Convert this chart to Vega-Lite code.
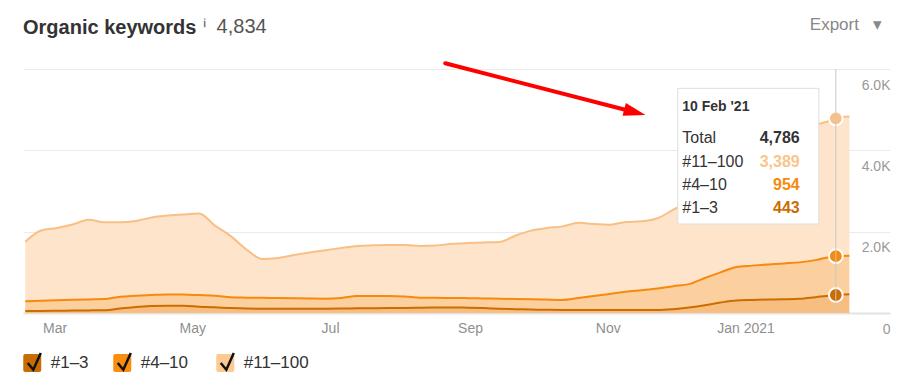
{
  "$schema": "https://vega.github.io/schema/vega-lite/v6.json",
  "width": 867,
  "height": 244,
  "autosize": {"type": "none"},
  "padding": {"left": 23, "top": 69, "right": 22, "bottom": 74},
  "background": "white",
  "config": {
    "view": {"stroke": null},
    "font": "Liberation Sans",
    "legend": {
      "orient": "none",
      "legendY": 283.5,
      "direction": "horizontal",
      "title": null,
      "padding": 0,
      "symbolSize": 324,
      "symbolStrokeWidth": 2.5,
      "labelFont": "Liberation Sans",
      "labelFontSize": 17,
      "labelColor": "#333333",
      "labelOffset": 8
    }
  },
  "title": {
    "text": "Organic keywords",
    "anchor": "start",
    "frame": "group",
    "fontSize": 20,
    "fontWeight": "bold",
    "color": "#333333",
    "font": "Liberation Sans",
    "offset": -23
  },
  "resolve": {"scale": {"shape": "independent"}, "legend": {"shape": "independent"}},
  "layer": [
    {
      "data": {
        "values": [
          {"date": "2020-02-17", "#1–3": 49, "#4–10": 241, "#11–100": 1463},
          {"date": "2020-02-24", "#1–3": 52, "#4–10": 248, "#11–100": 1730},
          {"date": "2020-03-02", "#1–3": 56, "#4–10": 259, "#11–100": 1775},
          {"date": "2020-03-09", "#1–3": 60, "#4–10": 265, "#11–100": 1850},
          {"date": "2020-03-16", "#1–3": 64, "#4–10": 271, "#11–100": 1955},
          {"date": "2020-03-23", "#1–3": 70, "#4–10": 272, "#11–100": 1888},
          {"date": "2020-03-30", "#1–3": 110, "#4–10": 290, "#11–100": 1830},
          {"date": "2020-04-06", "#1–3": 150, "#4–10": 275, "#11–100": 1840},
          {"date": "2020-04-13", "#1–3": 170, "#4–10": 275, "#11–100": 1905},
          {"date": "2020-04-20", "#1–3": 178, "#4–10": 280, "#11–100": 1937},
          {"date": "2020-04-27", "#1–3": 178, "#4–10": 277, "#11–100": 1970},
          {"date": "2020-05-04", "#1–3": 155, "#4–10": 285, "#11–100": 2005},
          {"date": "2020-05-11", "#1–3": 140, "#4–10": 285, "#11–100": 1725},
          {"date": "2020-05-18", "#1–3": 120, "#4–10": 270, "#11–100": 1500},
          {"date": "2020-05-25", "#1–3": 108, "#4–10": 270, "#11–100": 1182},
          {"date": "2020-06-01", "#1–3": 105, "#4–10": 267, "#11–100": 958},
          {"date": "2020-06-08", "#1–3": 105, "#4–10": 264, "#11–100": 986},
          {"date": "2020-06-15", "#1–3": 105, "#4–10": 257, "#11–100": 1063},
          {"date": "2020-06-22", "#1–3": 106, "#4–10": 250, "#11–100": 1134},
          {"date": "2020-06-29", "#1–3": 107, "#4–10": 245, "#11–100": 1193},
          {"date": "2020-07-06", "#1–3": 110, "#4–10": 260, "#11–100": 1230},
          {"date": "2020-07-13", "#1–3": 115, "#4–10": 300, "#11–100": 1235},
          {"date": "2020-07-20", "#1–3": 118, "#4–10": 300, "#11–100": 1247},
          {"date": "2020-07-27", "#1–3": 120, "#4–10": 298, "#11–100": 1254},
          {"date": "2020-08-03", "#1–3": 125, "#4–10": 280, "#11–100": 1267},
          {"date": "2020-08-10", "#1–3": 128, "#4–10": 248, "#11–100": 1274},
          {"date": "2020-08-17", "#1–3": 135, "#4–10": 237, "#11–100": 1288},
          {"date": "2020-08-24", "#1–3": 138, "#4–10": 232, "#11–100": 1330},
          {"date": "2020-08-31", "#1–3": 130, "#4–10": 235, "#11–100": 1355},
          {"date": "2020-09-07", "#1–3": 120, "#4–10": 238, "#11–100": 1377},
          {"date": "2020-09-14", "#1–3": 105, "#4–10": 247, "#11–100": 1393},
          {"date": "2020-09-21", "#1–3": 95, "#4–10": 250, "#11–100": 1555},
          {"date": "2020-09-28", "#1–3": 85, "#4–10": 255, "#11–100": 1685},
          {"date": "2020-10-05", "#1–3": 78, "#4–10": 252, "#11–100": 1760},
          {"date": "2020-10-12", "#1–3": 74, "#4–10": 248, "#11–100": 1808},
          {"date": "2020-10-19", "#1–3": 74, "#4–10": 296, "#11–100": 1850},
          {"date": "2020-10-26", "#1–3": 74, "#4–10": 346, "#11–100": 1768},
          {"date": "2020-11-02", "#1–3": 74, "#4–10": 396, "#11–100": 1702},
          {"date": "2020-11-09", "#1–3": 74, "#4–10": 450, "#11–100": 1714},
          {"date": "2020-11-16", "#1–3": 74, "#4–10": 486, "#11–100": 1695},
          {"date": "2020-11-23", "#1–3": 74, "#4–10": 526, "#11–100": 1730},
          {"date": "2020-11-30", "#1–3": 95, "#4–10": 565, "#11–100": 1880},
          {"date": "2020-12-07", "#1–3": 135, "#4–10": 575, "#11–100": 2040},
          {"date": "2020-12-14", "#1–3": 190, "#4–10": 670, "#11–100": 2090},
          {"date": "2020-12-21", "#1–3": 260, "#4–10": 740, "#11–100": 2200},
          {"date": "2020-12-28", "#1–3": 310, "#4–10": 820, "#11–100": 2320},
          {"date": "2021-01-04", "#1–3": 322, "#4–10": 843, "#11–100": 2535},
          {"date": "2021-01-11", "#1–3": 332, "#4–10": 863, "#11–100": 2755},
          {"date": "2021-01-18", "#1–3": 338, "#4–10": 882, "#11–100": 2980},
          {"date": "2021-01-25", "#1–3": 350, "#4–10": 895, "#11–100": 3205},
          {"date": "2021-02-01", "#1–3": 390, "#4–10": 910, "#11–100": 3320},
          {"date": "2021-02-08", "#1–3": 430, "#4–10": 955, "#11–100": 3355},
          {"date": "2021-02-10", "#1–3": 443, "#4–10": 954, "#11–100": 3389},
          {"date": "2021-02-16", "#1–3": 460, "#4–10": 949, "#11–100": 3425}
        ],
        "format": {"parse": {"date": "date"}}
      },
      "transform": [
        {"fold": ["#1–3", "#4–10", "#11–100"], "as": ["series", "value"]},
        {"calculate": "indexof(['#1–3','#4–10','#11–100'], datum.series)", "as": "rank"},
        {"stack": "value", "groupby": ["date"], "sort": [{"field": "rank", "order": "ascending"}], "as": ["v0", "v1"]}
      ],
      "layer": [
        {
          "mark": {"type": "area", "interpolate": "monotone"},
          "encoding": {
            "x": {
              "field": "date",
              "type": "temporal",
              "title": "ⁱ\u00a0\u00a04,834",
              "scale": {
                "type": "utc",
                "domain": [
                  {"year": 2020, "month": 2, "date": 16, "utc": true},
                  {"year": 2021, "month": 3, "date": 6, "utc": true}
                ]
              },
              "axis": {
                "values": [
                  {"year": 2020, "month": 3, "date": 1, "utc": true},
                  {"year": 2020, "month": 5, "date": 1, "utc": true},
                  {"year": 2020, "month": 7, "date": 1, "utc": true},
                  {"year": 2020, "month": 9, "date": 1, "utc": true},
                  {"year": 2020, "month": 11, "date": 1, "utc": true},
                  {"year": 2021, "month": 1, "date": 1, "utc": true}
                ],
                "labelExpr": "utcmonth(datum.value) == 0 ? utcFormat(datum.value, '%b %Y') : utcFormat(datum.value, '%b')",
                "grid": false,
                "ticks": false,
                "tickSize": 0,
                "labelPadding": 8,
                "labelFont": "Liberation Sans",
                "labelFontSize": 14,
                "labelColor": "#8f8f8f",
                "labelFlush": false,
                "labelOverlap": false,
                "domainColor": "#e3e3e3",
                "domainWidth": 2,
                "titleX": 179,
                "titleY": -280.7,
                "titleAlign": "left",
                "titleBaseline": "alphabetic",
                "titleFont": "Liberation Sans",
                "titleFontSize": 20,
                "titleFontWeight": "normal",
                "titleColor": "#555555"
              }
            },
            "y": {
              "field": "v0",
              "type": "quantitative",
              "title": "Export\u00a0\u00a0\u00a0▾",
              "scale": {"domain": [0, 6000], "nice": false},
              "axis": {
                "orient": "right",
                "values": [0, 2000, 4000, 6000],
                "labelExpr": "datum.value == 0 ? '0' : format(datum.value / 1000, '.1f') + 'K'",
                "grid": true,
                "gridColor": "#ebebeb",
                "domain": false,
                "ticks": false,
                "tickSize": 0,
                "labelAlign": "right",
                "labelPadding": 0,
                "labelOffset": 16,
                "labelBaseline": "middle",
                "labelFont": "Liberation Sans",
                "labelFontSize": 14,
                "labelColor": "#999999",
                "labelFlush": false,
                "labelOverlap": false,
                "titleAngle": 0,
                "titleX": -80.7,
                "titleY": -39.7,
                "titleAlign": "left",
                "titleBaseline": "alphabetic",
                "titleFont": "Liberation Sans",
                "titleFontSize": 17,
                "titleFontWeight": "normal",
                "titleColor": "#888888"
              }
            },
            "y2": {"field": "v1"},
            "fill": {
              "field": "series",
              "type": "nominal",
              "sort": null,
              "scale": {"range": ["#f8bd80", "#fccf9e", "#fde4ca"]},
              "legend": null
            }
          }
        },
        {
          "mark": {"type": "line", "interpolate": "monotone", "strokeWidth": 2},
          "encoding": {
            "x": {"field": "date", "type": "temporal", "title": "ⁱ\u00a0\u00a04,834"},
            "y": {"field": "v1", "type": "quantitative", "title": "Export\u00a0\u00a0\u00a0▾"},
            "detail": {"field": "series"},
            "color": {
              "field": "series",
              "type": "nominal",
              "scale": {"domain": ["#1–3", "#4–10", "#11–100"], "range": ["#cc6d00", "#f7890c", "#f9bf86"]},
              "legend": null
            }
          }
        },
        {
          "transform": [{"filter": "utcyear(datum.date) == 2021 && utcmonth(datum.date) == 1 && utcdate(datum.date) == 10"}],
          "mark": {"type": "point", "filled": true, "size": 190, "stroke": "white", "strokeWidth": 2, "opacity": 1},
          "encoding": {
            "x": {"field": "date", "type": "temporal", "title": "ⁱ\u00a0\u00a04,834"},
            "y": {"field": "v1", "type": "quantitative", "title": "Export\u00a0\u00a0\u00a0▾"},
            "color": {"field": "series", "type": "nominal", "legend": null}
          }
        }
      ]
    },
    {
      "data": {"values": [{}]},
      "mark": {"type": "rule", "color": "#c8c8c8", "strokeWidth": 1},
      "encoding": {
        "x": {"datum": {"year": 2021, "month": 2, "date": 10, "utc": true}, "type": "temporal", "title": "ⁱ\u00a0\u00a04,834"}
      }
    },
    {
      "data": {"values": [{}]},
      "layer": [
        {
          "mark": {"type": "rect", "fill": "white", "stroke": "#dedede", "strokeWidth": 1},
          "encoding": {
            "x": {"datum": {"year": 2020, "month": 12, "date": 2, "utc": true}, "type": "temporal", "title": "ⁱ\u00a0\u00a04,834"},
            "x2": {"datum": {"year": 2021, "month": 2, "date": 2, "hours": 12, "utc": true}},
            "y": {"datum": 5525, "type": "quantitative", "title": "Export\u00a0\u00a0\u00a0▾"},
            "y2": {"datum": 2189}
          }
        },
        {
          "mark": {"type": "text", "align": "left", "baseline": "alphabetic", "font": "Liberation Sans", "fontSize": 14, "fontWeight": "bold", "color": "#333333"},
          "encoding": {
            "x": {"datum": {"year": 2020, "month": 12, "date": 4, "utc": true}, "type": "temporal", "title": "ⁱ\u00a0\u00a04,834"},
            "y": {"datum": 4955, "type": "quantitative", "title": "Export\u00a0\u00a0\u00a0▾"},
            "text": {"value": "10 Feb '21"}
          }
        },
        {
          "mark": {"type": "text", "align": "left", "baseline": "alphabetic", "font": "Liberation Sans", "fontSize": 16, "lineHeight": 23.33, "color": "#333333"},
          "encoding": {
            "x": {"datum": {"year": 2020, "month": 12, "date": 4, "utc": true}, "type": "temporal", "title": "ⁱ\u00a0\u00a04,834"},
            "y": {"datum": 4173, "type": "quantitative", "title": "Export\u00a0\u00a0\u00a0▾"},
            "text": {"value": ["Total", "#11–100", "#4–10", "#1–3"]}
          }
        },
        {
          "mark": {"type": "text", "align": "right", "baseline": "alphabetic", "font": "Liberation Sans", "fontSize": 16, "fontWeight": "bold", "color": "#333333"},
          "encoding": {
            "x": {"datum": {"year": 2021, "month": 1, "date": 25, "utc": true}, "type": "temporal", "title": "ⁱ\u00a0\u00a04,834"},
            "y": {"datum": 4173, "type": "quantitative", "title": "Export\u00a0\u00a0\u00a0▾"},
            "text": {"value": "4,786"}
          }
        },
        {
          "mark": {"type": "text", "align": "right", "baseline": "alphabetic", "font": "Liberation Sans", "fontSize": 16, "fontWeight": "bold", "color": "#fbc48b"},
          "encoding": {
            "x": {"datum": {"year": 2021, "month": 1, "date": 25, "utc": true}, "type": "temporal", "title": "ⁱ\u00a0\u00a04,834"},
            "y": {"datum": 3598, "type": "quantitative", "title": "Export\u00a0\u00a0\u00a0▾"},
            "text": {"value": "3,389"}
          }
        },
        {
          "mark": {"type": "text", "align": "right", "baseline": "alphabetic", "font": "Liberation Sans", "fontSize": 16, "fontWeight": "bold", "color": "#f58b0c"},
          "encoding": {
            "x": {"datum": {"year": 2021, "month": 1, "date": 25, "utc": true}, "type": "temporal", "title": "ⁱ\u00a0\u00a04,834"},
            "y": {"datum": 3025, "type": "quantitative", "title": "Export\u00a0\u00a0\u00a0▾"},
            "text": {"value": "954"}
          }
        },
        {
          "mark": {"type": "text", "align": "right", "baseline": "alphabetic", "font": "Liberation Sans", "fontSize": 16, "fontWeight": "bold", "color": "#cc6d00"},
          "encoding": {
            "x": {"datum": {"year": 2021, "month": 1, "date": 25, "utc": true}, "type": "temporal", "title": "ⁱ\u00a0\u00a04,834"},
            "y": {"datum": 2452, "type": "quantitative", "title": "Export\u00a0\u00a0\u00a0▾"},
            "text": {"value": "443"}
          }
        },
        {
          "mark": {"type": "rule", "color": "#ff0000", "strokeWidth": 4, "strokeCap": "round"},
          "encoding": {
            "x": {"datum": {"year": 2020, "month": 8, "date": 21, "utc": true}, "type": "temporal", "title": "ⁱ\u00a0\u00a04,834"},
            "x2": {"datum": {"year": 2020, "month": 11, "date": 10, "utc": true}},
            "y": {"datum": 6140, "type": "quantitative", "title": "Export\u00a0\u00a0\u00a0▾"},
            "y2": {"datum": 4980}
          }
        },
        {
          "mark": {"type": "point", "shape": "M1,0 L-1,-0.6 L-1,0.6 Z", "filled": true, "color": "#ff0000", "opacity": 1, "size": 484, "angle": 14.5},
          "encoding": {
            "x": {"datum": {"year": 2020, "month": 11, "date": 13, "utc": true}, "type": "temporal", "title": "ⁱ\u00a0\u00a04,834"},
            "y": {"datum": 4937, "type": "quantitative", "title": "Export\u00a0\u00a0\u00a0▾"}
          }
        }
      ]
    },
    {
      "data": {"values": [{"k": "#1–3"}]},
      "mark": {"type": "point", "opacity": 0, "filled": true, "color": "#c96c05"},
      "encoding": {
        "shape": {
          "field": "k", "type": "nominal",
          "scale": {"range": ["M-1,-0.78 Q-1,-1 -0.78,-1 L0.78,-1 Q1,-1 1,-0.78 L1,0.78 Q1,1 0.78,1 L-0.78,1 Q-1,1 -1,0.78 Z"]},
          "legend": {
            "legendX": -1.25,
            "symbolFillColor": "#c96c05",
            "symbolStrokeColor": "transparent",
            "symbolOpacity": 1,
            "encode": {"symbols": {"update": {"fill": {"value": "#c96c05"}, "stroke": {"value": "transparent"}, "opacity": {"value": 1}}}}
          }
        }
      }
    },
    {
      "data": {"values": [{"k": "#4–10"}]},
      "mark": {"type": "point", "opacity": 0, "filled": true, "color": "#f88d0e"},
      "encoding": {
        "shape": {
          "field": "k", "type": "nominal",
          "scale": {"range": ["M-1,-0.78 Q-1,-1 -0.78,-1 L0.78,-1 Q1,-1 1,-0.78 L1,0.78 Q1,1 0.78,1 L-0.78,1 Q-1,1 -1,0.78 Z"]},
          "legend": {
            "legendX": 88.75,
            "symbolFillColor": "#f88d0e",
            "symbolStrokeColor": "transparent",
            "symbolOpacity": 1,
            "encode": {"symbols": {"update": {"fill": {"value": "#f88d0e"}, "stroke": {"value": "transparent"}, "opacity": {"value": 1}}}}
          }
        }
      }
    },
    {
      "data": {"values": [{"k": "#11–100"}]},
      "mark": {"type": "point", "opacity": 0, "filled": true, "color": "#fcc993"},
      "encoding": {
        "shape": {
          "field": "k", "type": "nominal",
          "scale": {"range": ["M-1,-0.78 Q-1,-1 -0.78,-1 L0.78,-1 Q1,-1 1,-0.78 L1,0.78 Q1,1 0.78,1 L-0.78,1 Q-1,1 -1,0.78 Z"]},
          "legend": {
            "legendX": 191.75,
            "symbolFillColor": "#fcc993",
            "symbolStrokeColor": "transparent",
            "symbolOpacity": 1,
            "encode": {"symbols": {"update": {"fill": {"value": "#fcc993"}, "stroke": {"value": "transparent"}, "opacity": {"value": 1}}}}
          }
        }
      }
    },
    {
      "data": {"values": [{"c": "a"}]},
      "mark": {"type": "point", "opacity": 0, "filled": false, "color": "#111111", "strokeWidth": 2.5},
      "encoding": {
        "shape": {
          "field": "c", "type": "nominal",
          "scale": {"range": ["M-0.5,0 L0.12,0.75 L0.95,-1.1"]},
          "legend": {
            "legendX": -1.25,
            "labelExpr": "''",
            "symbolFillColor": "transparent",
            "symbolStrokeColor": "#111111",
            "symbolOpacity": 1,
            "encode": {"symbols": {"update": {"fill": {"value": "transparent"}, "stroke": {"value": "#111111"}, "strokeWidth": {"value": 2.5}, "opacity": {"value": 1}}}}
          }
        }
      }
    },
    {
      "data": {"values": [{"c": "b"}]},
      "mark": {"type": "point", "opacity": 0, "filled": false, "color": "#111111", "strokeWidth": 2.5},
      "encoding": {
        "shape": {
          "field": "c", "type": "nominal",
          "scale": {"range": ["M-0.5,0 L0.12,0.75 L0.95,-1.1"]},
          "legend": {
            "legendX": 88.75,
            "labelExpr": "''",
            "symbolFillColor": "transparent",
            "symbolStrokeColor": "#111111",
            "symbolOpacity": 1,
            "encode": {"symbols": {"update": {"fill": {"value": "transparent"}, "stroke": {"value": "#111111"}, "strokeWidth": {"value": 2.5}, "opacity": {"value": 1}}}}
          }
        }
      }
    },
    {
      "data": {"values": [{"c": "c"}]},
      "mark": {"type": "point", "opacity": 0, "filled": false, "color": "#111111", "strokeWidth": 2.5},
      "encoding": {
        "shape": {
          "field": "c", "type": "nominal",
          "scale": {"range": ["M-0.5,0 L0.12,0.75 L0.95,-1.1"]},
          "legend": {
            "legendX": 191.75,
            "labelExpr": "''",
            "symbolFillColor": "transparent",
            "symbolStrokeColor": "#111111",
            "symbolOpacity": 1,
            "encode": {"symbols": {"update": {"fill": {"value": "transparent"}, "stroke": {"value": "#111111"}, "strokeWidth": {"value": 2.5}, "opacity": {"value": 1}}}}
          }
        }
      }
    }
  ]
}
